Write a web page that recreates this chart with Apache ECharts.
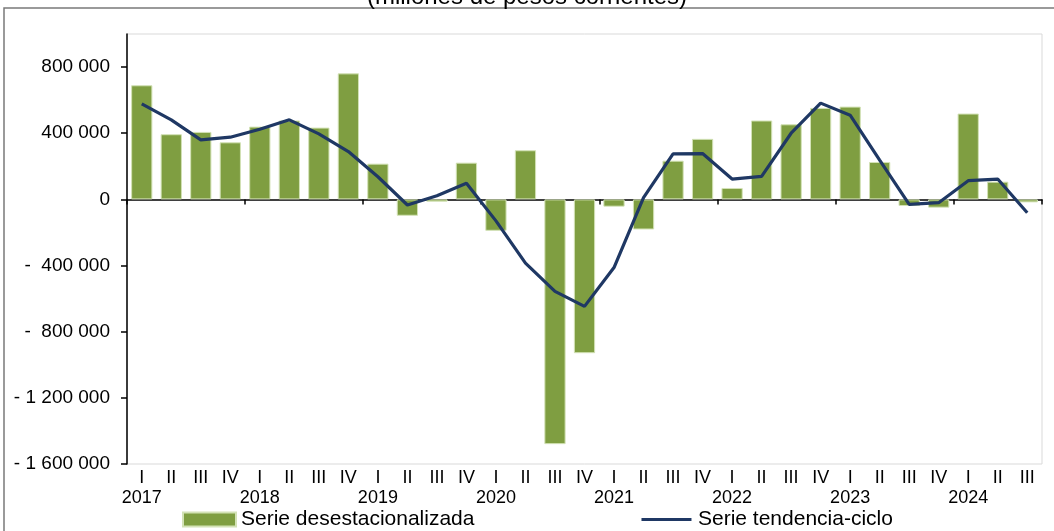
<!DOCTYPE html>
<html>
<head>
<meta charset="utf-8">
<script src="https://cdn.jsdelivr.net/npm/echarts@6/dist/echarts.min.js"></script>
<style>
  html, body { margin: 0; padding: 0; background: #fff; }
  #chart { width: 1054px; height: 531px; }
</style>
</head>
<body>
<div id="chart"></div>
<script>
var years = ['2017', '2018', '2019', '2020', '2021', '2022', '2023', '2024'];
var quarters = ['I', 'II', 'III', 'IV'];

// 2017 I .. 2024 III
var desestacionalizada = [
    690000, 394000, 408000, 345000,
    440000, 477000, 434000, 762000,
    216000, -99000, -14000, 222000,
    -190000, 297000, -1480000, -930000,
    -44000, -182000, 234000, 366000,
    69000, 477000, 454000, 553000,
    561000, 226000, -40000, -50000,
    519000, 107000, -18000
];
var tendenciaCiclo = [
    578000, 481000, 360000, 376000,
    424000, 481000, 396000, 289000,
    137000, -34000, 22000, 97000,
    -130000, -385000, -556000, -647000,
    -412000, 10000, 275000, 277000,
    123000, 139000, 400000, 582000,
    509000, 238000, -30000, -20000,
    113000, 123000, -81000
];
var yTicks = [-1600000, -1200000, -800000, -400000, 0, 400000, 800000];

var categories = [];
for (var i = 0; i < desestacionalizada.length; i++) {
    var q = quarters[i % 4];
    categories.push(i % 4 === 0 ? q + '\n' + years[i / 4] : q);
}

// "- 1 200 000" / "-  400 000"
function fmt(v) {
    var s = Math.abs(v).toString().replace(/\B(?=(\d{3})+(?!\d))/g, ' ');
    if (v >= 0) return s;
    return (Math.abs(v) >= 1000000 ? '- ' : '-  ') + s;
}

var font = "'Liberation Sans', Arial, sans-serif";
var chart = echarts.init(document.getElementById('chart'), null, {renderer: 'canvas'});

chart.setOption({
    animation: false,
    textStyle: {fontFamily: font},
    title: {
        text: '(millones de pesos corrientes)',
        left: 'center',
        top: -20,
        textStyle: {fontSize: 24, fontWeight: 'normal', color: '#000', fontFamily: font}
    },
    graphic: [{
        type: 'rect',
        z: -10,
        shape: {x: 4, y: 8, width: 1100, height: 600},
        style: {fill: 'none', stroke: '#7a7a7a', lineWidth: 1.5}
    }],
    legend: {
        left: 182,
        top: 509,
        padding: 0,
        itemGap: 167,
        itemWidth: 53,
        itemHeight: 14,
        textStyle: {fontSize: 21, color: '#000', fontFamily: font},
        data: [
            {name: 'Serie desestacionalizada', icon: 'rect'},
            {name: 'Serie tendencia-ciclo',
             icon: 'path://M0,0 L0,0 Z M0,11 L100,11 L100,17 L0,17 Z M100,28 L100,28 Z'}
        ]
    },
    grid: {
        left: 127, right: 12, top: 34, bottom: 67,
        show: true, borderColor: '#d9d9d9', borderWidth: 1
    },
    xAxis: [{
        type: 'category',
        data: categories,
        position: 'bottom',
        axisLine: {show: false, onZero: false},
        axisTick: {show: false},
        axisLabel: {
            interval: 0, margin: 4, fontSize: 18, lineHeight: 20, color: '#000', fontFamily: font
        }
    }, {
        type: 'category',
        data: categories,
        position: 'bottom',
        axisLine: {show: true, onZero: true, lineStyle: {color: '#000', width: 1.5}},
        axisTick: {show: true, interval: 3, length: 5, lineStyle: {color: '#000', width: 1.5}},
        axisLabel: {show: false}
    }],
    yAxis: {
        type: 'value',
        min: -1600000,
        max: 1000000,
        interval: 400000,
        axisLine: {show: true, lineStyle: {color: '#000', width: 1.5}},
        axisTick: {show: true, length: 6, customValues: yTicks, lineStyle: {color: '#000', width: 1.5}},
        splitLine: {show: false},
        axisLabel: {
            customValues: yTicks, margin: 17, fontSize: 19, color: '#000', fontFamily: font,
            formatter: fmt
        }
    },
    series: [{
        name: 'Serie desestacionalizada',
        type: 'bar',
        xAxisIndex: 0,
        data: desestacionalizada,
        barCategoryGap: '28%',
        itemStyle: {color: '#7f9e41', borderColor: '#d3e2b6', borderWidth: 1}
    }, {
        name: 'Serie tendencia-ciclo',
        type: 'line',
        xAxisIndex: 0,
        data: tendenciaCiclo,
        symbol: 'none',
        lineStyle: {color: '#1f3864', width: 3.2},
        itemStyle: {color: '#1f3864'},
        z: 5
    }]
});
</script>
</body>
</html>
